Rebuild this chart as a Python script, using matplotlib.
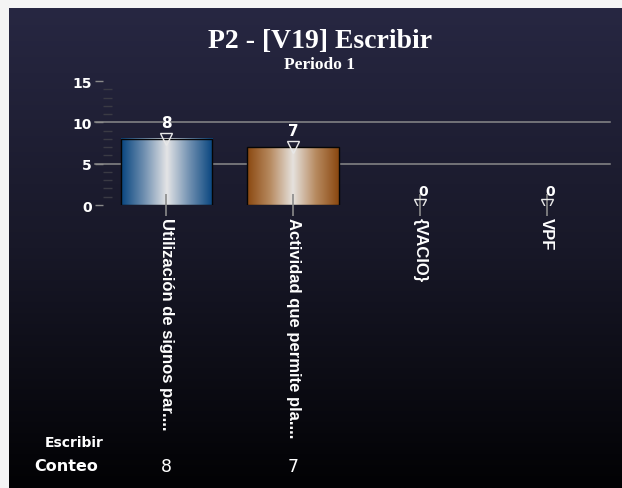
import numpy as np
import matplotlib
matplotlib.use("Agg")
import matplotlib.pyplot as plt
from matplotlib.colors import LinearSegmentedColormap
import matplotlib.transforms as mtransforms

categories = ["Utilización de signos par....", "Actividad que permite pla....", "{VACIO}", "VPF"]
values = [8, 7, 0, 0]
table_row_header = "Escribir"
table_row_label = "Conteo"
title = "P2 - [V19] Escribir"
subtitle = "Periodo 1"
yticks = [0, 5, 10, 15]

W, H = 622, 489
fig = plt.figure(figsize=(W / 100, H / 100), dpi=100)
fig.patch.set_facecolor("#f4f4f4")

NARROW = ["Liberation Sans", "DejaVu Sans"]
WIDE = ["DejaVu Sans"]

# background gradient panel
bg = fig.add_axes([9 / W, 0, (W - 9) / W, (H - 9) / H])
bg.set_axis_off()
grad_cmap = LinearSegmentedColormap.from_list("bg", ["#272742", "#181828", "#020204"])
bg.imshow(np.linspace(0, 1, 256).reshape(-1, 1), aspect="auto", cmap=grad_cmap,
          extent=[0, 1, 0, 1])
bg.set_xlim(0, 1)
bg.set_ylim(0, 1)

left, right, y0px, y15px = 103, 610, 206, 82
ax = fig.add_axes([left / W, (H - y0px) / H, (right - left) / W, (y0px - y15px) / H])
ax.set_facecolor("none")
for s in ax.spines.values():
    s.set_visible(False)

# gridlines
ytr = ax.get_yaxis_transform()
for gv in [5, 10]:
    ax.plot([-0.016, 1.0], [gv, gv], transform=ytr, color="#8a8a8a", lw=1.1,
            clip_on=False, zorder=0.5)

bar_cmaps = [
    LinearSegmentedColormap.from_list("b1", ["#08457f", "#6f8fb0", "#e4e4e6", "#6f8fb0", "#08457f"]),
    LinearSegmentedColormap.from_list("b2", ["#8a4810", "#b78a60", "#e6e2de", "#b78a60", "#8a4810"]),
]
bw = 0.72
x = np.arange(len(categories))
for i, v in enumerate(values):
    if v > 0:
        cm = bar_cmaps[i % len(bar_cmaps)]
        ax.imshow(np.linspace(0, 1, 256).reshape(1, -1), aspect="auto", cmap=cm,
                  extent=[x[i] - bw / 2, x[i] + bw / 2, 0, v], zorder=1)
        ax.bar(x[i], v, width=bw, color="none", edgecolor="#050505", lw=1.0, zorder=1.2)

ax.set_xlim(-0.5, len(categories) - 0.5)
ax.set_ylim(0, 15)

ax.plot(x, values, linestyle="none", marker="v", markersize=9, mfc="none",
        mec="#e8e8e8", mew=1.0, zorder=3, clip_on=True)

for i, v in enumerate(values):
    ax.annotate(str(v), (x[i], v), xytext=(0, 12) if v > 0 else (-1, 10),
                textcoords="offset points",
                ha="center" if v > 0 else "left", va="center", color="white",
                fontsize=11 if v > 0 else 10, fontweight="bold", family=WIDE)

ax.set_yticks(yticks)
ax.set_yticklabels([str(t) for t in yticks], color="white", fontsize=10,
                   fontweight="bold", family=WIDE)
ax.set_yticks(np.arange(0, 16, 1), minor=True)
ax.tick_params(axis="y", which="major", direction="out", length=6, width=1,
               color="#8a8a8a", pad=2)
ax.tick_params(axis="y", which="minor", direction="in", length=6.5, width=1,
               color="#3a3a44")

ax.set_xticks(x)
ax.set_xticklabels(categories, rotation=270, color="white", fontsize=12,
                   fontweight="bold", family=NARROW, ha="center", va="top")
ax.tick_params(axis="x", direction="inout", length=16, width=1.2, color="#8a8a8a", pad=1)

fig.text(320 / W, 1 - 42 / H, title, ha="center", va="center", color="white",
         fontsize=20, fontweight="bold", family="Liberation Serif")
fig.text(320 / W, 1 - 65 / H, subtitle, ha="center", va="center", color="white",
         fontsize=12.5, fontweight="bold", family="Liberation Serif")

fig.text(74 / W, 1 - 443 / H, table_row_header, ha="center", va="center", color="white",
         fontsize=10, fontweight="bold", family=WIDE)
fig.text(66 / W, 1 - 467 / H, table_row_label, ha="center", va="center", color="white",
         fontsize=11.5, fontweight="bold", family=WIDE)
blend = mtransforms.blended_transform_factory(ax.transData, fig.transFigure)
for i, v in enumerate(values):
    if v > 0:
        ax.text(x[i], 1 - 467 / H, str(v), transform=blend, ha="center", va="center",
                color="white", fontsize=12.5, family=WIDE)

fig.savefig("out.png", dpi=100, facecolor=fig.get_facecolor())
